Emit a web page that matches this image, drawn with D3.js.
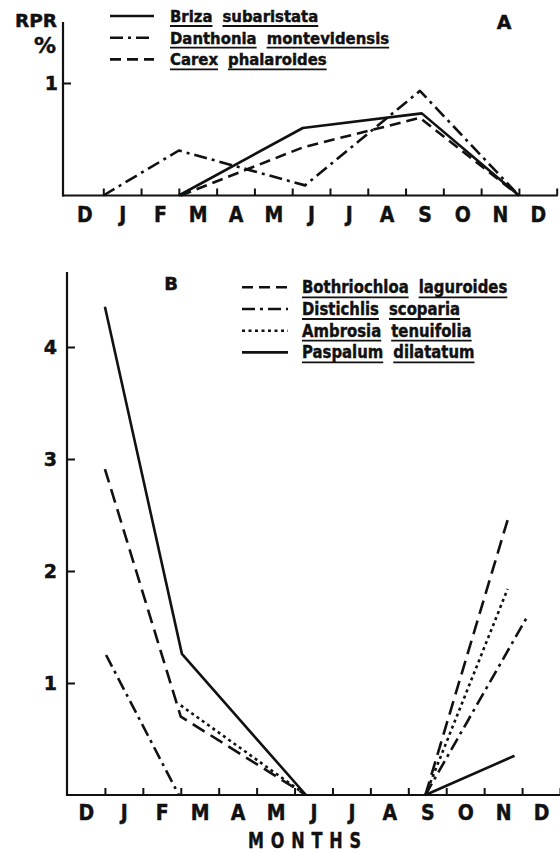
<!DOCTYPE html>
<html>
<head>
<meta charset="utf-8">
<script src="https://cdn.jsdelivr.net/npm/d3@7"></script>
<style>
  body { margin: 0; background: #fff; }
  svg { display: block; font-family: "DejaVu Sans", sans-serif; font-weight: bold; }
  svg text { stroke: #111; stroke-width: 0.45px; }
</style>
</head>
<body>
<svg id="chart" width="560" height="852"></svg>
<script>
// month labels, first Dec .. second Dec; ticks mark month boundaries
const monthLabels = ["D", "J", "F", "M", "A", "M", "J", "J", "A", "S", "O", "N", "D"];
const monthTicks = d3.range(1, 14);

// panel A: [months since 1 Dec, RPR %]
const brizaA = [[3, 0], [6.28, 0.60], [9.43, 0.73], [12, 0]];
const danthoniaA = [[1, 0], [3, 0.40], [6.34, 0.09], [9.38, 0.93], [12, 0]];
const carexA = [[3.05, 0], [6.3, 0.43], [9.38, 0.69], [12, 0]];
const yTicksA = [1];
const namesA = [["Briza", "subaristata"], ["Danthonia", "montevidensis"], ["Carex", "phalaroides"]];

// panel B (null = gap in the record)
const bothriochloaB = [[1, 2.91], [3, 0.70], [6.3, 0], [7.9, null], [9.45, 0], [11.64, 2.48]];
const distichlisB = [[1.03, 1.25], [2.95, 0], [7.9, null], [9.45, 0], [12.15, 1.60]];
const ambrosiaB = [[3, 0.80], [6.3, 0], [7.9, null], [9.45, 0], [11.62, 1.84]];
const paspalumB = [[1, 4.36], [3.03, 1.26], [6.3, 0], [7.9, null], [9.45, 0], [11.8, 0.35]];
const yTicksB = [1, 2, 3, 4];
const namesB = [["Bothriochloa", "laguroides"], ["Distichlis", "scoparia"], ["Ambrosia", "tenuifolia"], ["Paspalum", "dilatatum"]];

const ink = "#111";
const dashes = {
  solid: null,
  dashdot: "13,5,3,5",
  dashed: "11,6",
  longdash: "14,7",
  dotted: "3,3.5"
};

const svg = d3.select("#chart");

function squeeze(sel, k) {
  sel.each(function() {
    const w = this.getComputedTextLength();
    d3.select(this).attr("textLength", w * k).attr("lengthAdjust", "spacingAndGlyphs");
  });
}

function drawPanel(x, y, yTicks, axisX, yTop, yPad, labelPad) {
  const g = svg.append("g");
  const y0 = y(0);

  g.append("line")
    .attr("x1", axisX).attr("x2", axisX)
    .attr("y1", yTop).attr("y2", y0 + 1)
    .attr("stroke", ink).attr("stroke-width", 2.2);
  g.append("line")
    .attr("x1", axisX - 1).attr("x2", x(13) + 1)
    .attr("y1", y0).attr("y2", y0)
    .attr("stroke", ink).attr("stroke-width", 2.2);

  // month boundary ticks
  const xt = g.append("g")
    .attr("transform", `translate(0,${y0})`)
    .call(d3.axisBottom(x).tickValues(monthTicks).tickSizeInner(-7).tickSizeOuter(0).tickFormat(""));
  xt.select(".domain").remove();
  xt.selectAll("line").attr("stroke", ink).attr("stroke-width", 2);

  // month labels centred in each month
  const xl = g.append("g")
    .attr("transform", `translate(0,${y0})`)
    .call(d3.axisBottom(x).tickValues(monthTicks.map(m => m - 0.5)).tickSize(0).tickPadding(labelPad)
      .tickFormat((d, i) => monthLabels[i]));
  xl.select(".domain").remove();
  xl.selectAll("text")
    .attr("font-size", 21).attr("font-family", "DejaVu Sans, sans-serif")
    .attr("font-weight", "bold").attr("fill", ink);
  squeeze(xl.selectAll("text"), 0.9);

  const ya = g.append("g")
    .attr("transform", `translate(${axisX},0)`)
    .call(d3.axisLeft(y).tickValues(yTicks).tickSizeInner(-8).tickSizeOuter(0).tickPadding(yPad).tickFormat(d3.format("d")));
  ya.select(".domain").remove();
  ya.selectAll("line").attr("stroke", ink).attr("stroke-width", 2);
  ya.selectAll("text")
    .attr("font-size", 19).attr("font-family", "DejaVu Sans, sans-serif")
    .attr("font-weight", "bold").attr("fill", ink);

  return g;
}

function drawSeries(g, x, y, data, dash) {
  const line = d3.line()
    .defined(d => d[1] !== null)
    .x(d => x(d[0]))
    .y(d => y(d[1]));
  g.append("path")
    .datum(data)
    .attr("d", line)
    .attr("fill", "none")
    .attr("stroke", ink)
    .attr("stroke-width", 2.6)
    .attr("stroke-linejoin", "round")
    .attr("stroke-dasharray", dash);
}

function legendRow(g, x1, x2, textX, baseline, words, dash, fontSize, k) {
  g.append("line")
    .attr("x1", x1).attr("x2", x2)
    .attr("y1", baseline - 6).attr("y2", baseline - 6)
    .attr("stroke", ink).attr("stroke-width", 2.6)
    .attr("stroke-dasharray", dash);

  let cx = textX;
  words.forEach(w => {
    const t = g.append("text")
      .attr("x", cx).attr("y", baseline)
      .attr("font-size", fontSize).attr("fill", ink)
      .text(w);
    squeeze(t, k);
    const width = +t.attr("textLength");
    g.append("line")
      .attr("x1", cx).attr("x2", cx + width)
      .attr("y1", baseline + 4).attr("y2", baseline + 4)
      .attr("stroke", ink).attr("stroke-width", 1.8);
    cx += width + 10;
  });
}

// ---------- panel A ----------
const xA = d3.scaleLinear().domain([0, 13]).range([65.5, 556.7]);
const yA = d3.scaleLinear().domain([0, 1]).range([195.5, 83]);
const gA = drawPanel(xA, yA, yTicksA, 63, 22, 5, 12);

drawSeries(gA, xA, yA, danthoniaA, dashes.dashdot);
drawSeries(gA, xA, yA, carexA, dashes.dashed);
drawSeries(gA, xA, yA, brizaA, dashes.solid);

const rprText = gA.append("text").attr("x", 15).attr("y", 27).attr("font-size", 18).attr("fill", ink).text("RPR");
rprText.attr("textLength", 42).attr("lengthAdjust", "spacingAndGlyphs");
gA.append("text").attr("x", 56).attr("y", 53).attr("text-anchor", "end").attr("font-size", 22).attr("fill", ink).text("%");
gA.append("text").attr("x", 504).attr("y", 29).attr("text-anchor", "middle").attr("font-size", 19).attr("fill", ink).text("A");

const styleA = [dashes.solid, dashes.dashdot, dashes.dashed];
namesA.forEach((words, i) => {
  legendRow(gA, 110, 154, 170, 22 + i * 21.7, words, styleA[i], 16, 0.93);
});

// ---------- panel B ----------
const xB = d3.scaleLinear().domain([0, 13]).range([67, 560]);
const yB = d3.scaleLinear().domain([0, 4]).range([795, 347]);
const gB = drawPanel(xB, yB, yTicksB, 67, 272, 10, 10);

drawSeries(gB, xB, yB, distichlisB, dashes.dashdot);
drawSeries(gB, xB, yB, ambrosiaB, dashes.dotted);
drawSeries(gB, xB, yB, bothriochloaB, dashes.longdash);
drawSeries(gB, xB, yB, paspalumB, dashes.solid);

gB.append("text").attr("x", 171).attr("y", 290).attr("text-anchor", "middle").attr("font-size", 18).attr("fill", ink).text("B");

const styleB = [dashes.dashed, dashes.dashdot, dashes.dotted, dashes.solid];
namesB.forEach((words, i) => {
  legendRow(gB, 242, 288, 302, 293.3 + i * 21.7, words, styleB[i], 17.5, 0.85);
});

svg.append("text")
  .attr("x", 248).attr("y", 848)
  .attr("font-size", 21).attr("letter-spacing", 9).attr("fill", ink)
  .attr("textLength", 120).attr("lengthAdjust", "spacingAndGlyphs")
  .text("MONTHS");
</script>
</body>
</html>
